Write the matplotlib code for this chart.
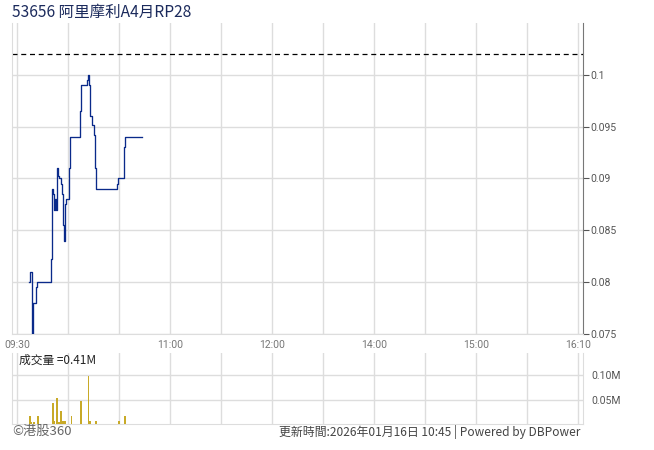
import numpy as np
import matplotlib
matplotlib.use('Agg')
import matplotlib.pyplot as plt

plt.rcParams['font.family'] = ['Noto Sans CJK TC', 'DejaVu Sans']

# minutes of trading since 09:30 (lunch break removed); value holds from that minute on
price_t = [7.3, 7.8, 8.6, 9.0, 9.6, 11.2, 12.0, 19.8, 20.4, 20.8, 21.4, 22.0, 22.5, 23.0, 23.3, 23.7,
           24.3, 24.9, 25.9, 26.5, 27.2, 27.6, 28.2, 28.6, 30.8, 31.4, 37.1, 37.5, 41.4, 42.0, 42.2,
           43.0, 43.9, 45.1, 45.7, 46.3, 59.0, 59.6, 63.0, 63.7, 73.3]
price_v = [0.080, 0.081, 0.078, 0.075, 0.078, 0.0795, 0.080, 0.0822, 0.0867, 0.089, 0.0885, 0.087,
           0.088, 0.087, 0.0905, 0.091, 0.0902, 0.090, 0.0895, 0.0885, 0.0855, 0.084, 0.0875, 0.088,
           0.091, 0.094, 0.0965, 0.099, 0.0995, 0.100, 0.099, 0.096, 0.0952, 0.0942, 0.091, 0.089,
           0.0895, 0.090, 0.093, 0.094, 0.094]
prev_close = 0.102

vol_t = [7.5, 8.5, 10, 12.5, 21, 22, 23.5, 24.5, 26, 27, 28, 28.5, 32, 37.5, 42, 43, 46.5, 60, 63.5]
vol_v = [0.016, 0.004, 0.004, 0.016, 0.043, 0.006, 0.053, 0.004, 0.027, 0.006, 0.006, 0.006, 0.016,
         0.047, 0.098, 0.006, 0.006, 0.006, 0.017]

tick_pos = [0, 90, 150, 210, 270, 330]
tick_lab = ['09:30', '11:00', '12:00', '14:00', '15:00', '16:10']

price_ticks = [0.075, 0.08, 0.085, 0.09, 0.095, 0.1]
vol_ticks = [0.05, 0.10]

fig = plt.figure(figsize=(6.54, 4.5), dpi=100)
ax = fig.add_axes([0.0183, 0.2578, 0.8731, 0.6911])
axv = fig.add_axes([0.0183, 0.0578, 0.8731, 0.1578])

grid_c = '#dddddd'
for a in (ax, axv):
    a.set_xlim(-3, 333)
    for x in np.arange(0, 331, 30):
        a.axvline(x, color=grid_c, lw=1, zorder=0)
    for s in ('top', 'left', 'bottom'):
        a.spines[s].set_color(grid_c)
    a.spines['top'].set_visible(False)
    a.yaxis.tick_right()
    a.set_xticks([])
    a.tick_params(axis='y', colors='#555555', labelsize=7.5, length=4, pad=1)

# price panel
ax.set_ylim(0.075, 0.1050)
for y in price_ticks:
    ax.axhline(y, color=grid_c, lw=1, zorder=0)
ax.step(price_t, price_v, where='post', color='#0a2a8a', lw=0.95, zorder=3)
ax.axhline(prev_close, color='black', lw=0.9, ls=(0, (4, 3)), zorder=2)
ax.set_yticks(price_ticks)
ax.set_yticklabels(['0.075', '0.08', '0.085', '0.09', '0.095', '0.1'], family=['Roboto'])
ax.spines['right'].set_color('#777777')

# volume panel
axv.set_ylim(0, 0.145)
for y in vol_ticks:
    axv.axhline(y, color=grid_c, lw=1, zorder=0)
axv.bar(vol_t, vol_v, width=1.0, color='#c8aa28', zorder=3)
axv.set_yticks(vol_ticks)
axv.set_yticklabels(['0.05M', '0.10M'], family=['Roboto'])
axv.tick_params(axis='y', length=0, pad=6)
axv.spines['right'].set_color(grid_c)
axv.text(0.012, 0.99, '成交量 =0.41M', transform=axv.transAxes, ha='left', va='top',
         fontsize=8.5, color='#222222')

# time labels between panels
for p, lab in zip(tick_pos, tick_lab):
    fx = 0.0183 + (p + 3) / 336 * 0.8731
    fig.text(fx, 0.233, lab, ha='center', va='center', fontsize=7.5, color='#777777',
             family=['Roboto'])

fig.text(0.018, 0.972, '53656 阿里摩利A4月RP28', ha='left', va='center', fontsize=11.2,
         color='#1b2a5c')
fig.text(0.018, 0.042, '©港股360', ha='left', va='center', fontsize=9.5, color='#666666')
fig.text(0.888, 0.040, '更新時間:2026年01月16日 10:45 | Powered by DBPower', ha='right',
         va='center', fontsize=8.6, color='#444444')

fig.savefig('out.png', dpi=100)
